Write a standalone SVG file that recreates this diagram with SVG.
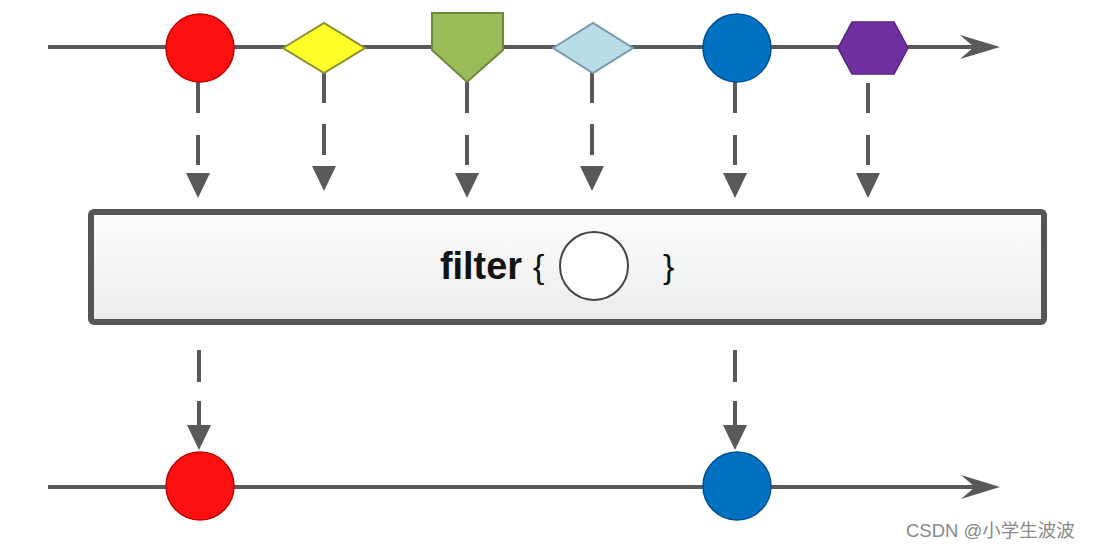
<svg xmlns="http://www.w3.org/2000/svg" width="1093" height="549" viewBox="0 0 1093 549">
  <style>
    .axis { stroke: #595959; stroke-width: 4; fill: none; }
    .dash { stroke: #595959; stroke-width: 4; fill: none; }
    .head { fill: #595959; }
    .lbl { font-family: "Liberation Sans", Arial, sans-serif; fill: #111; }
  </style>
  <defs>
    <linearGradient id="boxg" x1="0" y1="0" x2="0" y2="1">
      <stop offset="0" stop-color="#fdfdfd"/>
      <stop offset="1" stop-color="#ececec"/>
    </linearGradient>
  </defs>
  <rect width="1093" height="549" fill="#ffffff"/>

  <g id="axes">
    <line class="axis" x1="48" y1="47" x2="990" y2="47"/>
    <path class="head" d="M960,35 L1000,47 L960,59 L974,47 Z"/>
    <line class="axis" x1="48" y1="487" x2="990" y2="487"/>
    <path class="head" d="M961,475 L1000,487 L961,499 L975,487 Z"/>
  </g>

  <g id="connectors">
    <path class="dash" d="M198,81 V113 M198,135 V165"/>
    <path class="head" d="M186,173 L210,173 L198,198 Z"/>
    <path class="dash" d="M324,72 V103 M324,124 V155"/>
    <path class="head" d="M312,166 L336,166 L324,191 Z"/>
    <path class="dash" d="M467,82 V113 M467,135 V165"/>
    <path class="head" d="M455,173 L479,173 L467,198 Z"/>
    <path class="dash" d="M592,72 V103 M592,124 V155"/>
    <path class="head" d="M580,166 L604,166 L592,191 Z"/>
    <path class="dash" d="M735,82 V113 M735,135 V165"/>
    <path class="head" d="M723,173 L747,173 L735,198 Z"/>
    <path class="dash" d="M868,83 V113 M868,135 V165"/>
    <path class="head" d="M856,173 L880,173 L868,198 Z"/>
    <path class="dash" d="M199,350 V382 M199,401 V428"/>
    <path class="head" d="M187,425 L211,425 L199,450 Z"/>
    <path class="dash" d="M735,350 V382 M735,401 V428"/>
    <path class="head" d="M723,425 L747,425 L735,450 Z"/>
  </g>

  <g id="src-red"><circle cx="200" cy="48" r="34" fill="#ff1010" stroke="#c00000" stroke-width="1.5"/></g>
  <g id="src-yellow"><polygon points="283,48 324,23 365,48 324,73" fill="#ffff2a" stroke="#8f8f30" stroke-width="2"/></g>
  <g id="src-green"><polygon points="432,13 503,13 503,50 467,82 432,50" fill="#9bbb59" stroke="#6b8a3a" stroke-width="2"/></g>
  <g id="src-lightblue"><polygon points="553,48 593,23 633,48 593,73" fill="#b9dde8" stroke="#7a9aa6" stroke-width="2"/></g>
  <g id="src-blue"><circle cx="737" cy="48" r="34" fill="#0070c0" stroke="#00508f" stroke-width="1.5"/></g>
  <g id="src-purple"><polygon points="838,48 852,22 894,22 908,48 894,74 852,74" fill="#7030a0" stroke="#5a2080" stroke-width="1.5"/></g>

  <g id="filter-box">
    <rect x="91" y="212" width="953" height="110" rx="3" fill="url(#boxg)" stroke="#555555" stroke-width="6"/>
    <text class="lbl" x="440" y="279" font-size="38" font-weight="bold" textLength="82" lengthAdjust="spacingAndGlyphs">filter</text>
    <text class="lbl" x="533" y="278" font-size="34">{</text>
    <circle cx="594" cy="266" r="34" fill="#ffffff" stroke="#444" stroke-width="2"/>
    <text class="lbl" x="663" y="278" font-size="34">}</text>
  </g>

  <g id="out-red"><circle cx="200" cy="486" r="34" fill="#ff1010" stroke="#c00000" stroke-width="1.5"/></g>
  <g id="out-blue"><circle cx="737" cy="486" r="34" fill="#0070c0" stroke="#00508f" stroke-width="1.5"/></g>

  <text x="906" y="537" font-family="'Liberation Sans', 'Noto Sans CJK SC', sans-serif" font-size="18.5" fill="#8a8a8a">CSDN @小学生波波</text>
</svg>
